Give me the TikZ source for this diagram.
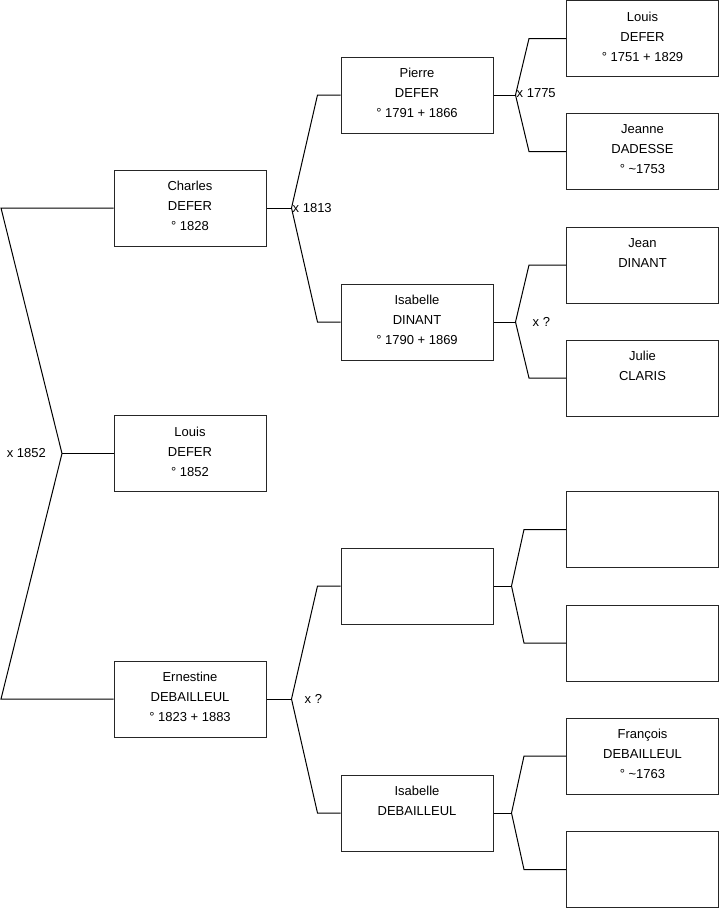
\documentclass[tikz,border=0pt]{standalone}
\usepackage{fontspec}
\setmainfont{Liberation Sans}
\usetikzlibrary{positioning, calc}
\tikzset{
  person/.style={draw=black!85, line width=1pt, fill=white, minimum width=152pt, minimum height=76pt, align=center, inner sep=0pt, text depth=4pt, font=\fontsize{13}{20}\selectfont},
  link/.style={draw, line width=1pt},
  union/.style={inner sep=1pt, font=\fontsize{13}{15}\selectfont},
}

\begin{document}
\begin{tikzpicture}[x=1pt, y=-1pt]
    \useasboundingbox (0,0) rectangle (719,908);
    % generation 1
    \node[person] (charles) at (190,208) {Charles\\DEFER\\° 1828};
    \node[person] (louis) at (190,453.5) {Louis\\DEFER\\° 1852};
    \node[person] (ernestine) at (190,699) {Ernestine\\DEBAILLEUL\\° 1823 + 1883};
    % generation 2
    \node[person] (pierre) at (417,95) {Pierre\\DEFER\\° 1791 + 1866};
    \node[person] (isabelle) at (417,322) {Isabelle\\DINANT\\° 1790 + 1869};
    \node[person] (inconnu) at (417,586) {};
    \node[person] (isabelleD) at (417,813) {Isabelle\\DEBAILLEUL\\\mbox{}};
    % generation 3
    \node[person] (louisP) at (642.5,38.5) {Louis\\DEFER\\° 1751 + 1829};
    \node[person] (jeanne) at (642.5,151.5) {Jeanne\\DADESSE\\° \textasciitilde1753};
    \node[person] (jean) at (642.5,265) {Jean\\DINANT\\\mbox{}};
    \node[person] (julie) at (642.5,378) {Julie\\CLARIS\\\mbox{}};
    \node[person] (vide1) at (642.5,529.5) {};
    \node[person] (vide2) at (642.5,643) {};
    \node[person] (francois) at (642.5,756) {François\\DEBAILLEUL\\° \textasciitilde1763};
    \node[person] (vide3) at (642.5,869.5) {};

    % Louis
    \coordinate (fLouis) at (62,453.5);
    \coordinate (hautL) at (1,208);
    \coordinate (basL) at (1,699);
    \draw[link] (charles.west) -- (hautL) -- (fLouis) -- (basL) -- (ernestine.west);
    \draw[link] (louis.west) -- (fLouis);
    \node[union, left=15pt of fLouis] {x 1852};

    % Charles
    \draw[link] (charles.east) -- ++(25,0) coordinate (fCharles);
    \draw[link] (fCharles) -- ([xshift=-23pt]pierre.west) -- (pierre.west);
    \draw[link] (fCharles) -- ([xshift=-23pt]isabelle.west) -- (isabelle.west);
    \node[union, right] at (fCharles) {x 1813};

    % Ernestine
    \draw[link] (ernestine.east) -- ++(25,0) coordinate (fErnestine);
    \draw[link] (fErnestine) -- ([xshift=-23pt]inconnu.west) -- (inconnu.west);
    \draw[link] (fErnestine) -- ([xshift=-23pt]isabelleD.west) -- (isabelleD.west);
    \node[union, right=12pt of fErnestine] {x ?};

    % Pierre
    \draw[link] (pierre.east) -- ++(22,0) coordinate (fPierre);
    \draw[link] (fPierre) -- ([xshift=-37pt]louisP.west) -- (louisP.west);
    \draw[link] (fPierre) -- ([xshift=-37pt]jeanne.west) -- (jeanne.west);
    \node[union, right, yshift=2pt] at (fPierre) {x 1775};

    % Isabelle
    \draw[link] (isabelle.east) -- ++(22,0) coordinate (fIsabelle);
    \draw[link] (fIsabelle) -- ([xshift=-37pt]jean.west) -- (jean.west);
    \draw[link] (fIsabelle) -- ([xshift=-37pt]julie.west) -- (julie.west);
    \node[union, right=16pt of fIsabelle] {x ?};

    % inconnu
    \draw[link] (inconnu.east) -- ++(18,0) coordinate (fInconnu);
    \draw[link] (fInconnu) -- ([xshift=-42pt]vide1.west) -- (vide1.west);
    \draw[link] (fInconnu) -- ([xshift=-42pt]vide2.west) -- (vide2.west);

    % Isabelle D.
    \draw[link] (isabelleD.east) -- ++(18,0) coordinate (fIsabelleD);
    \draw[link] (fIsabelleD) -- ([xshift=-42pt]francois.west) -- (francois.west);
    \draw[link] (fIsabelleD) -- ([xshift=-42pt]vide3.west) -- (vide3.west);
\end{tikzpicture}
\end{document}
